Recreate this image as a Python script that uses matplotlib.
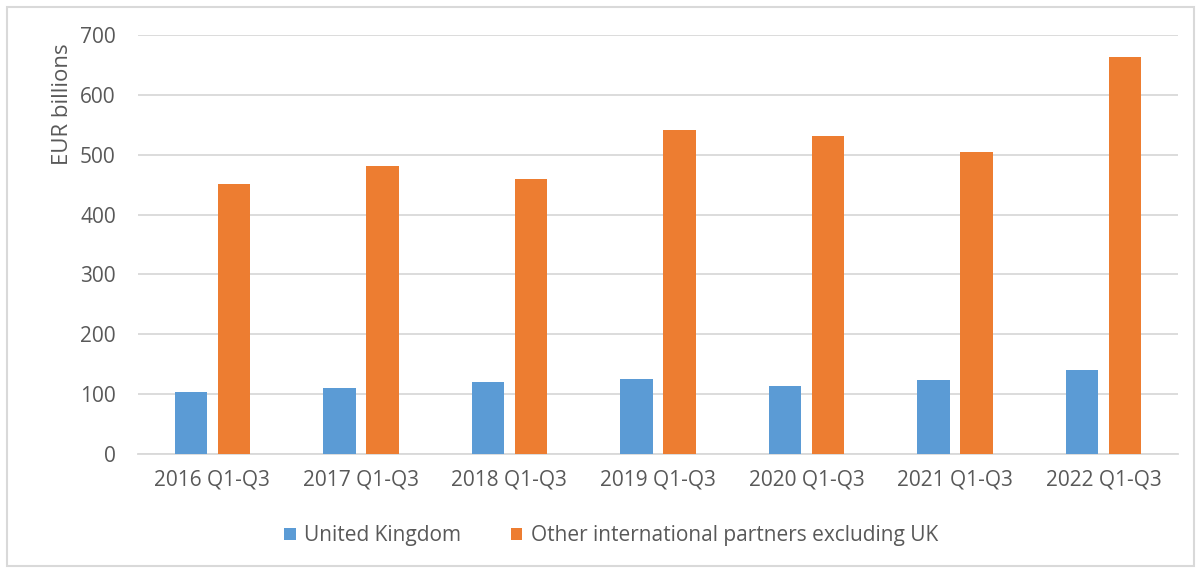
import matplotlib.pyplot as plt
from matplotlib.patches import Rectangle
import numpy as np

plt.rcParams['font.family'] = ['Open Sans', 'DejaVu Sans']

categories = ['2016 Q1-Q3', '2017 Q1-Q3', '2018 Q1-Q3', '2019 Q1-Q3',
              '2020 Q1-Q3', '2021 Q1-Q3', '2022 Q1-Q3']
uk = [103, 110, 120, 126, 113, 123, 140]
others = [451, 481, 460, 541, 531, 504, 663]
series_names = ['United Kingdom', 'Other international partners excluding UK']
yticks = [0, 100, 200, 300, 400, 500, 600, 700]

blue = '#5B9BD5'
orange = '#ED7D31'
grey_text = '#595959'
grid = '#D9D9D9'

fig = plt.figure(figsize=(12.01, 5.73), dpi=100)
ax = fig.add_axes([138 / 1201, 1 - 454 / 573, (1178 - 138) / 1201, (454 - 35) / 573])

x = np.arange(len(categories))
w = 0.218
off = 0.145
ax.bar(x - off, uk, w, color=blue, label=series_names[0], zorder=3)
ax.bar(x + off, others, w, color=orange, label=series_names[1], zorder=3)

ax.set_xlim(-0.5, len(categories) - 0.5)
ax.set_ylim(0, 700)
ax.set_yticks(yticks)
ax.set_xticks(x)
ax.set_xticklabels(categories)
ax.yaxis.grid(True, color=grid, linewidth=1.3, zorder=0)
for s in ['top', 'right', 'left']:
    ax.spines[s].set_visible(False)
ax.spines['bottom'].set_color(grid)
ax.spines['bottom'].set_linewidth(1.3)
ax.tick_params(axis='both', length=0, labelsize=15, labelcolor=grey_text)
ax.tick_params(axis='y', pad=16)
ax.tick_params(axis='x', pad=11)

fig.text(62 / 1201, 1 - 104 / 573, 'EUR billions', rotation=90, ha='center',
         va='center', fontsize=16, color=grey_text)

leg = fig.legend(loc='center', bbox_to_anchor=(611 / 1201, 1 - 536 / 573), ncol=2,
                 frameon=False, fontsize=15, handlelength=0.55, handleheight=0.55,
                 handletextpad=0.4, columnspacing=2.4)
for t in leg.get_texts():
    t.set_color(grey_text)

fig.patches.append(Rectangle((7 / 1201, 7 / 573), 1187 / 1201, 559 / 573,
                             transform=fig.transFigure, fill=False,
                             edgecolor=grid, linewidth=1.5))

fig.savefig('out.png', dpi=100)
